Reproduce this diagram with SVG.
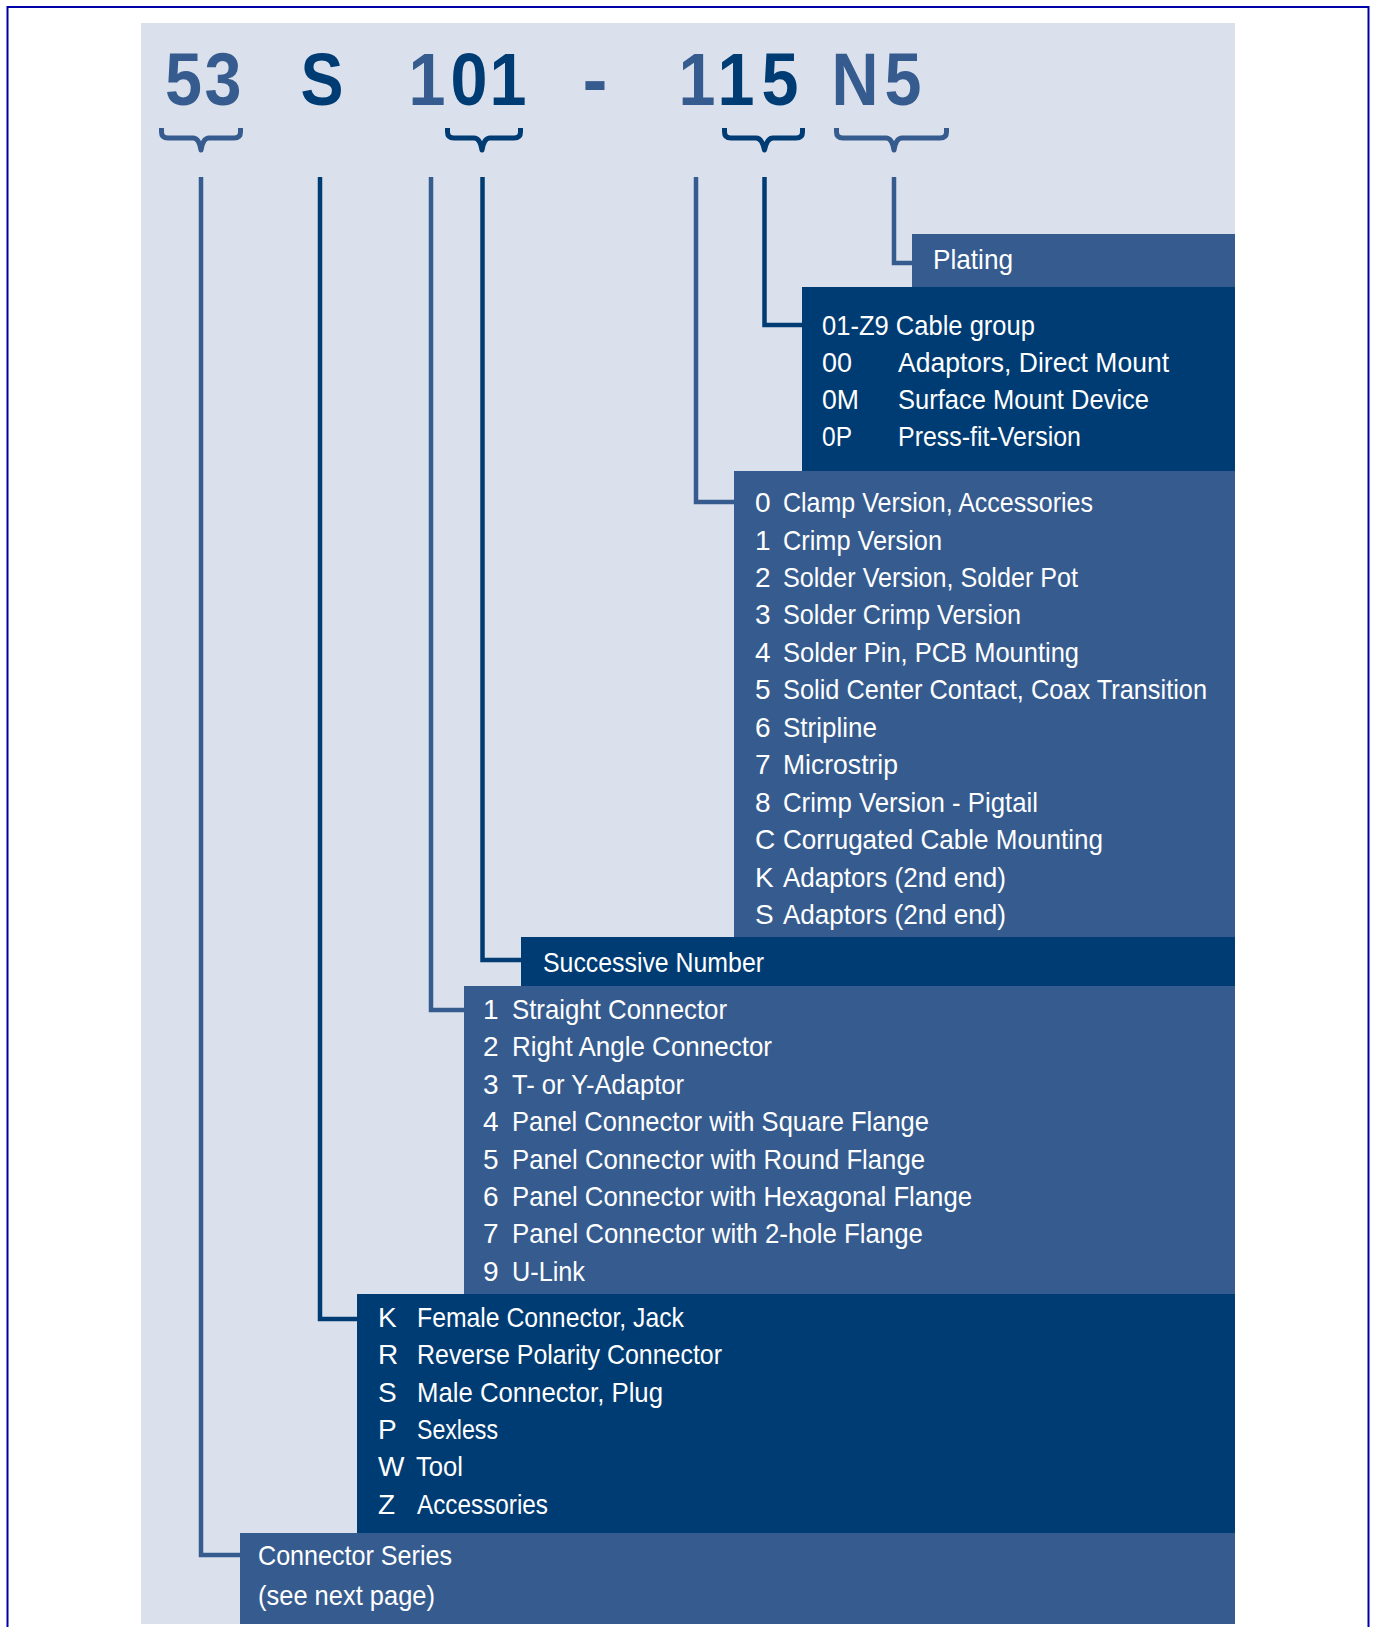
<svg xmlns="http://www.w3.org/2000/svg" width="1374" height="1627" viewBox="0 0 1374 1627">
<style>
.hd{font-family:"Liberation Sans",Arial,sans-serif;font-weight:bold;font-size:75px;text-anchor:middle}
.lt{fill:#365C8F}
.dk{fill:#003C74}
.t{font-family:"Liberation Sans",Arial,sans-serif;font-size:28px;fill:#ffffff}
.boxL{fill:#365C8F}
.boxD{fill:#003C74}
.br{fill:none;stroke-width:5;stroke-linejoin:round;stroke-linecap:butt}
.cn{fill:none;stroke-width:4.5;stroke-linejoin:miter}
.sl{stroke:#365C8F}
.sd{stroke:#003C74}
</style>
<rect x="0" y="0" width="1374" height="1627" fill="#ffffff"/>
<rect x="7.5" y="7" width="1361" height="1640" fill="none" stroke="#0000A8" stroke-width="2"/>
<rect id="panel" x="141" y="23" width="1094" height="1601" fill="#DAE0EC"/>

<g id="header">
<text class="hd lt" x="183.5" y="105" textLength="37" lengthAdjust="spacingAndGlyphs">5</text>
<text class="hd lt" x="223" y="105" textLength="37" lengthAdjust="spacingAndGlyphs">3</text>
<text class="hd dk" x="322" y="105" textLength="43" lengthAdjust="spacingAndGlyphs">S</text>
<text class="hd lt" x="427" y="105" textLength="37" lengthAdjust="spacingAndGlyphs">1</text>
<text class="hd dk" x="469" y="105" textLength="37" lengthAdjust="spacingAndGlyphs">0</text>
<text class="hd dk" x="508" y="105" textLength="37" lengthAdjust="spacingAndGlyphs">1</text>
<text class="hd lt" x="595" y="105">-</text>
<text class="hd lt" x="697" y="105" textLength="37" lengthAdjust="spacingAndGlyphs">1</text>
<text class="hd dk" x="736" y="105" textLength="37" lengthAdjust="spacingAndGlyphs">1</text>
<text class="hd dk" x="780" y="105" textLength="37" lengthAdjust="spacingAndGlyphs">5</text>
<text class="hd lt" x="855" y="105" textLength="47" lengthAdjust="spacingAndGlyphs">N</text>
<text class="hd lt" x="903" y="105" textLength="37" lengthAdjust="spacingAndGlyphs">5</text>
</g>

<g id="braces">
<path class="br sl" d="M161.5 128 V132 Q161.5 138 168 138 H193 Q199 138 201 150 Q203 138 209 138 H234 Q240.5 138 240.5 132 V128"/>
<path class="br sd" d="M447.5 128 V132 Q447.5 138 454 138 H474 Q480 138 482 150 Q484 138 490 138 H514 Q520.5 138 520.5 132 V128"/>
<path class="br sd" d="M724.5 128 V132 Q724.5 138 731 138 H756 Q762 138 764.5 150 Q767 138 773 138 H796 Q802.5 138 802.5 132 V128"/>
<path class="br sl" d="M836.5 128 V132 Q836.5 138 843 138 H886 Q892 138 894 150 Q896 138 902 138 H940 Q946.5 138 946.5 132 V128"/>
</g>

<g id="connectors">
<path class="cn sl" d="M201 177 V1555 H242"/>
<path class="cn sd" d="M320 177 V1319 H359"/>
<path class="cn sl" d="M431 177 V1010 H466"/>
<path class="cn sd" d="M482.5 177 V960 H523"/>
<path class="cn sl" d="M696 177 V502 H736"/>
<path class="cn sd" d="M764.5 177 V325 H804"/>
<path class="cn sl" d="M894 177 V263 H914"/>
</g>

<g id="plating">
<rect class="boxL" x="912" y="234" width="323" height="53"/>
<text class="t" x="933" y="269" textLength="80" lengthAdjust="spacingAndGlyphs">Plating</text>
</g>

<g id="cable-group">
<rect class="boxD" x="802" y="287" width="433" height="184"/>
<text class="t" x="822" y="335" textLength="213" lengthAdjust="spacingAndGlyphs">01-Z9 Cable group</text>
<text class="t" x="822" y="372" textLength="30" lengthAdjust="spacingAndGlyphs">00</text>
<text class="t" x="898" y="372" textLength="271" lengthAdjust="spacingAndGlyphs">Adaptors, Direct Mount</text>
<text class="t" x="822" y="409" textLength="37" lengthAdjust="spacingAndGlyphs">0M</text>
<text class="t" x="898" y="409" textLength="251" lengthAdjust="spacingAndGlyphs">Surface Mount Device</text>
<text class="t" x="822" y="446" textLength="30" lengthAdjust="spacingAndGlyphs">0P</text>
<text class="t" x="898" y="446" textLength="183" lengthAdjust="spacingAndGlyphs">Press-fit-Version</text>
</g>

<g id="version">
<rect class="boxL" x="734" y="471" width="501" height="466"/>
<text class="t" x="755" y="512">0</text><text class="t" x="783" y="512" textLength="310" lengthAdjust="spacingAndGlyphs">Clamp Version, Accessories</text>
<text class="t" x="755" y="549.5">1</text><text class="t" x="783" y="549.5" textLength="159" lengthAdjust="spacingAndGlyphs">Crimp Version</text>
<text class="t" x="755" y="587">2</text><text class="t" x="783" y="587" textLength="295" lengthAdjust="spacingAndGlyphs">Solder Version, Solder Pot</text>
<text class="t" x="755" y="624.3">3</text><text class="t" x="783" y="624.3" textLength="238" lengthAdjust="spacingAndGlyphs">Solder Crimp Version</text>
<text class="t" x="755" y="661.8">4</text><text class="t" x="783" y="661.8" textLength="296" lengthAdjust="spacingAndGlyphs">Solder Pin, PCB Mounting</text>
<text class="t" x="755" y="699.2">5</text><text class="t" x="783" y="699.2" textLength="424" lengthAdjust="spacingAndGlyphs">Solid Center Contact, Coax Transition</text>
<text class="t" x="755" y="736.7">6</text><text class="t" x="783" y="736.7" textLength="94" lengthAdjust="spacingAndGlyphs">Stripline</text>
<text class="t" x="755" y="774.1">7</text><text class="t" x="783" y="774.1" textLength="115" lengthAdjust="spacingAndGlyphs">Microstrip</text>
<text class="t" x="755" y="811.6">8</text><text class="t" x="783" y="811.6" textLength="255" lengthAdjust="spacingAndGlyphs">Crimp Version - Pigtail</text>
<text class="t" x="755" y="849">C</text><text class="t" x="783" y="849" textLength="320" lengthAdjust="spacingAndGlyphs">Corrugated Cable Mounting</text>
<text class="t" x="755" y="886.5">K</text><text class="t" x="783" y="886.5" textLength="223" lengthAdjust="spacingAndGlyphs">Adaptors (2nd end)</text>
<text class="t" x="755" y="924">S</text><text class="t" x="783" y="924" textLength="223" lengthAdjust="spacingAndGlyphs">Adaptors (2nd end)</text>
</g>

<g id="successive">
<rect class="boxD" x="521" y="937" width="714" height="49"/>
<text class="t" x="543" y="972" textLength="221" lengthAdjust="spacingAndGlyphs">Successive Number</text>
</g>

<g id="type">
<rect class="boxL" x="464" y="986" width="771" height="308"/>
<text class="t" x="483" y="1019">1</text><text class="t" x="512" y="1019" textLength="215" lengthAdjust="spacingAndGlyphs">Straight Connector</text>
<text class="t" x="483" y="1056.4">2</text><text class="t" x="512" y="1056.4" textLength="260" lengthAdjust="spacingAndGlyphs">Right Angle Connector</text>
<text class="t" x="483" y="1093.8">3</text><text class="t" x="512" y="1093.8" textLength="172" lengthAdjust="spacingAndGlyphs">T- or Y-Adaptor</text>
<text class="t" x="483" y="1131.2">4</text><text class="t" x="512" y="1131.2" textLength="417" lengthAdjust="spacingAndGlyphs">Panel Connector with Square Flange</text>
<text class="t" x="483" y="1168.6">5</text><text class="t" x="512" y="1168.6" textLength="413" lengthAdjust="spacingAndGlyphs">Panel Connector with Round Flange</text>
<text class="t" x="483" y="1206">6</text><text class="t" x="512" y="1206" textLength="460" lengthAdjust="spacingAndGlyphs">Panel Connector with Hexagonal Flange</text>
<text class="t" x="483" y="1243.4">7</text><text class="t" x="512" y="1243.4" textLength="411" lengthAdjust="spacingAndGlyphs">Panel Connector with 2-hole Flange</text>
<text class="t" x="483" y="1280.8">9</text><text class="t" x="512" y="1280.8" textLength="73" lengthAdjust="spacingAndGlyphs">U-Link</text>
</g>

<g id="gender">
<rect class="boxD" x="357" y="1294" width="878" height="239"/>
<text class="t" x="378" y="1327">K</text><text class="t" x="417" y="1327" textLength="267" lengthAdjust="spacingAndGlyphs">Female Connector, Jack</text>
<text class="t" x="378" y="1364.3">R</text><text class="t" x="417" y="1364.3" textLength="305" lengthAdjust="spacingAndGlyphs">Reverse Polarity Connector</text>
<text class="t" x="378" y="1401.6">S</text><text class="t" x="417" y="1401.6" textLength="246" lengthAdjust="spacingAndGlyphs">Male Connector, Plug</text>
<text class="t" x="378" y="1438.9">P</text><text class="t" x="417" y="1438.9" textLength="81" lengthAdjust="spacingAndGlyphs">Sexless</text>
<text class="t" x="378" y="1476.2">W</text><text class="t" x="416" y="1476.2" textLength="47" lengthAdjust="spacingAndGlyphs">Tool</text>
<text class="t" x="378" y="1513.5">Z</text><text class="t" x="417" y="1513.5" textLength="131" lengthAdjust="spacingAndGlyphs">Accessories</text>
</g>

<g id="series">
<rect class="boxL" x="240" y="1533" width="995" height="91"/>
<text class="t" x="258" y="1565" textLength="194" lengthAdjust="spacingAndGlyphs">Connector Series</text>
<text class="t" x="258" y="1605" textLength="177" lengthAdjust="spacingAndGlyphs">(see next page)</text>
</g>
</svg>
